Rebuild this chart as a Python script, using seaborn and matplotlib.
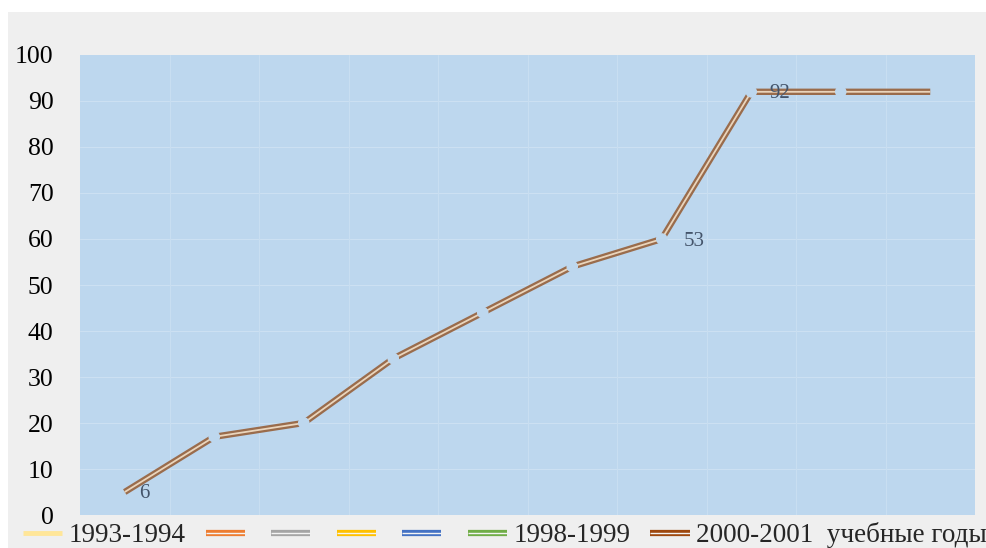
import matplotlib
matplotlib.use("Agg")
import matplotlib.pyplot as plt
import matplotlib.patheffects as pe
from matplotlib.lines import Line2D
from matplotlib.patches import Rectangle
import seaborn as sns
import pandas as pd
import numpy as np

# ---- data ----
points = list(range(10))
values = [5, 17, 20, 34, 44, 54, 60, 92, 92, 92]
point_labels = ["6", "", "", "", "", "", "53", "92", "", ""]
legend_labels = ["1993-1994", "", "", "", "", "1998-1999", "2000-2001  учебные годы"]
legend_colors = ["#FFE699", "#ED7D31", "#A5A5A5", "#FFC000", "#4472C4", "#70AD47", "#9E480E"]
yticks = [0, 10, 20, 30, 40, 50, 60, 70, 80, 90, 100]

df = pd.DataFrame({"x": points, "y": values})

sns.set_theme(style="white")
plt.rcParams["font.family"] = ["Liberation Serif", "DejaVu Serif"]

W, H = 986, 548
fig = plt.figure(figsize=(W / 100, H / 100), dpi=100, facecolor="white")
fig.patches.append(Rectangle((8 / W, 0), 1 - 8 / W, 1 - 12 / H, transform=fig.transFigure,
                             facecolor="#EFEFEF", edgecolor="none", zorder=-5))

bg = "#BDD7EE"
ax = fig.add_axes([80 / W, 33 / H, 895 / W, 460 / H])
ax.set_zorder(2)
ax.set_facecolor(bg)

sns.lineplot(data=df, x="x", y="y", ax=ax, color="#EAD5BC", lw=1.3, zorder=3,
             solid_capstyle="butt", solid_joinstyle="miter",
             path_effects=[pe.Stroke(linewidth=4.6, foreground="#9A6C4C"), pe.Normal()])
inner = df.iloc[1:-1]
sns.scatterplot(data=inner, x="x", y="y", ax=ax, s=70, color=bg, edgecolor="none",
                zorder=4, legend=False)

offsets = {0: (20, -2), 6: (32, -3), 7: (28, -2)}
for i, (xv, yv, lab) in enumerate(zip(points, values, point_labels)):
    if lab:
        dx, dy = offsets.get(i, (20, 0))
        ax.annotate(lab, (xv, yv), xytext=(dx, dy), textcoords="offset pixels",
                    ha="center", va="center", fontsize=15, color="#44546A", zorder=5)

ax.set_xlim(-0.5, 9.5)
ax.set_ylim(0, 100)
ax.set_yticks(yticks)
ax.set_yticklabels([str(t) for t in yticks], fontsize=18.5, color="black")
ax.set_xticks([])
ax.tick_params(axis="y", length=0, pad=19)
for yt in yticks[1:-1]:
    ax.axhline(yt, color="#CCE0F2", lw=0.8, zorder=1)
for xb in np.arange(0.5, 9.5, 1):
    ax.axvline(xb, color="#C8DEF1", lw=0.8, zorder=1)
for s in ax.spines.values():
    s.set_visible(False)
ax.set_xlabel("")
ax.set_ylabel("")

handles = []
for j, c in enumerate(legend_colors):
    if j == 0:
        h = Line2D([0], [0], color=c, lw=3.5, solid_capstyle="butt")
    else:
        h = Line2D([0], [0], color="#F4F4F4", lw=1.0, solid_capstyle="butt",
                   path_effects=[pe.Stroke(linewidth=4.5, foreground=c), pe.Normal()])
    handles.append(h)
leg = fig.legend(handles, legend_labels, loc="center", bbox_to_anchor=(505 / W, 13 / H),
                 ncol=7, frameon=False, fontsize=19.5, handlelength=1.45, handletextpad=0.25,
                 columnspacing=0.72, borderaxespad=0, borderpad=0)
leg.set_zorder(6)

fig.savefig("out.png", dpi=100, facecolor="white")
